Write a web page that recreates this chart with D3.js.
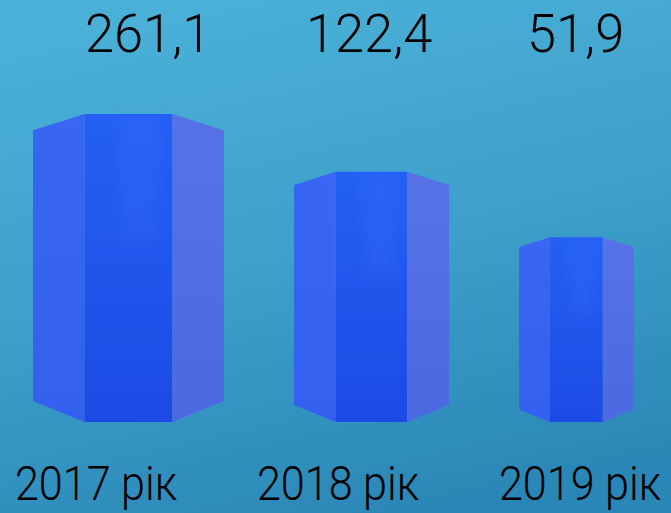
<!DOCTYPE html>
<html>
<head>
<meta charset="utf-8">
<script src="https://cdn.jsdelivr.net/npm/d3@7"></script>
<style>
  html, body { margin: 0; padding: 0; overflow: hidden; }
</style>
</head>
<body>
<div id="chart"></div>
<script>
// data
const years = ["2017 рік", "2018 рік", "2019 рік"];
const values = [261.1, 122.4, 51.9];
const valueLabels = ["261,1", "122,4", "51,9"];

const W = 671, H = 513;
const base = 422;          // bottom of the front faces
const x0 = 33, gap = 70;   // bars laid out side by side
const widthRatio = 0.62;   // prism width / height
const side = 0.27;         // side face share of the width

// pictorial bars: heights follow a log scale
const hScale = d3.scaleLog().domain([4.6, 261.1]).range([0, 308]);

const svg = d3.select("#chart").append("svg")
  .attr("width", W)
  .attr("height", H)
  .attr("viewBox", "0 0 " + W + " " + H);

const defs = svg.append("defs");

const bg = defs.append("linearGradient").attr("id", "bg")
  .attr("x1", 0.35).attr("y1", 0).attr("x2", 0.65).attr("y2", 1);
bg.append("stop").attr("offset", 0).attr("stop-color", "#4ab0d7");
bg.append("stop").attr("offset", 0.5).attr("stop-color", "#3d9fca");
bg.append("stop").attr("offset", 1).attr("stop-color", "#2a86b6");

function vgrad(id, c1, c2){
  const g = defs.append("linearGradient").attr("id", id)
    .attr("x1", 0).attr("y1", 0).attr("x2", 0).attr("y2", 1);
  g.append("stop").attr("offset", 0).attr("stop-color", c1);
  g.append("stop").attr("offset", 1).attr("stop-color", c2);
}
vgrad("faceLeft", "#3966f2", "#3360ee");
vgrad("faceFront", "#2460f4", "#1c4ae4");
vgrad("faceRight", "#5672e6", "#4c69e2");

defs.append("filter").attr("id", "soft")
  .attr("x", "-50%").attr("y", "-50%").attr("width", "200%").attr("height", "200%")
  .append("feGaussianBlur").attr("stdDeviation", 7);

svg.append("rect").attr("width", W).attr("height", H).attr("fill", "url(#bg)");

// bar geometry
let cursor = x0;
const bars = values.map(function(v, i){
  const h = hScale(v);
  const w = h * widthRatio;
  const b = {year: years[i], x: cursor, h: h, w: w};
  cursor += w + gap;
  return b;
});

function faces(b){
  const xl = b.x, xa = b.x + side * b.w, xb = b.x + (1 - side) * b.w, xr = b.x + b.w;
  const yTop = base - b.h, tTop = 0.085 * b.w, tBot = 0.11 * b.w;
  return [
    {fill: "url(#faceLeft)",  pts: [[xl, yTop + tTop], [xa, yTop], [xa, base], [xl, base - tBot]]},
    {fill: "url(#faceFront)", pts: [[xa, yTop], [xb, yTop], [xb, base], [xa, base]]},
    {fill: "url(#faceRight)", pts: [[xb, yTop], [xr, yTop + tTop], [xr, base - tBot], [xb, base]]}
  ];
}

const barG = svg.append("g").selectAll("g")
  .data(bars)
  .join("g");

barG.selectAll("polygon")
  .data(d => faces(d))
  .join("polygon")
  .attr("points", d => d.pts.map(p => p.join(",")).join(" "))
  .attr("fill", d => d.fill);

// faint highlight on the upper front face
barG.append("rect")
  .attr("x", d => d.x + side * d.w + 0.4 * (1 - 2 * side) * d.w)
  .attr("y", d => base - d.h + 4)
  .attr("width", d => 0.45 * (1 - 2 * side) * d.w)
  .attr("height", d => d.h * 0.4)
  .attr("fill", "#3f78ff")
  .attr("opacity", 0.2)
  .attr("filter", "url(#soft)");

// text
const fontFamily = "Roboto, 'Open Sans', 'Liberation Sans', sans-serif";

const xValue = d3.scalePoint().domain(years).range([85, 527]);
svg.append("g").selectAll("text")
  .data(values)
  .join("text")
  .attr("transform", (d, i) => "translate(" + xValue(years[i]) + ",52) scale(0.97,1)")
  .attr("font-family", fontFamily)
  .attr("font-weight", 300)
  .attr("font-size", 54)
  .attr("fill", "#000")
  .text((d, i) => valueLabels[i]);

const xYear = d3.scalePoint().domain(years).range([96, 580]);
svg.append("g").selectAll("text")
  .data(years)
  .join("text")
  .attr("transform", d => "translate(" + xYear(d) + ",500) scale(0.88,1)")
  .attr("text-anchor", "middle")
  .attr("font-family", fontFamily)
  .attr("font-weight", 300)
  .attr("font-size", 49)
  .attr("fill", "#000")
  .text(d => d);
</script>
</body>
</html>
